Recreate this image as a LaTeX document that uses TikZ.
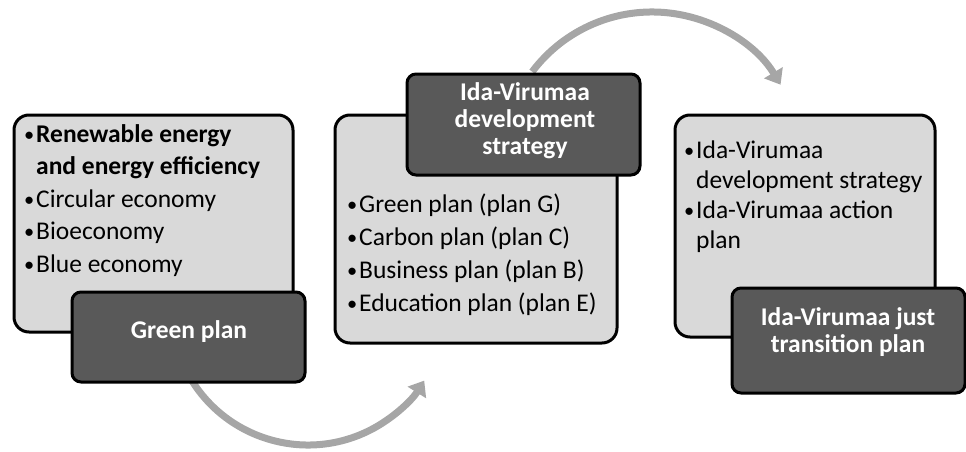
\documentclass[tikz,border=0pt]{standalone}
\usepackage{fontspec}
\setmainfont{Carlito}
\usetikzlibrary{arrows.meta}
\definecolor{lightfill}{HTML}{D9D9D9}
\definecolor{darkfill}{HTML}{595959}
\definecolor{arrowgray}{HTML}{A6A6A6}
\newcommand\bul{\makebox[12pt][l]{\raisebox{1pt}{\scalebox{0.8}{•}}}}
\tikzset{
  lightbox/.style={draw=black, line width=3pt, fill=lightfill, rounded corners=15pt, inner sep=0pt},
  darkbox/.style={draw=black, line width=3pt, fill=darkfill, rounded corners=9pt, inner sep=0pt},
  itemtext/.style={anchor=north west, inner sep=0pt, align=left, font=\fontsize{25.5}{32.5}\selectfont},
  titletext/.style={inner sep=0pt, align=center, text=white, font=\fontsize{25.5}{27}\selectfont\bfseries},
  cyclearrow/.style={draw=arrowgray, line width=7pt, -{Triangle[width=21pt,length=14pt]}}
}
\begin{document}
\begin{tikzpicture}[x=1pt,y=1pt]
\useasboundingbox (0,0) rectangle (966,451);
% arrows (behind the boxes)
\coordinate (a1s) at (189.4,74.5);
\coordinate (a2s) at (532.2,379.3);
\draw[cyclearrow] (a1s) arc[start angle=210,end angle=328,radius=137pt];
\draw[cyclearrow] (a2s) arc[start angle=143,end angle=31,radius=150pt];
% box 1
\node[lightbox, minimum width=279pt, minimum height=217pt] (b1) at (153.5,227.5) {};
\node[itemtext] (t1) at (24,327) {\bul\textbf{Renewable energy}\\\hspace*{12pt}\textbf{and energy efficiency}\\\bul Circular economy\\\bul Bioeconomy\\\bul Blue economy};
\node[darkbox, minimum width=233pt, minimum height=90pt] (d1) at (188.5,114) {};
\node[titletext] (d1t) at (189,119.5) {Green plan};
% box 2
\node[lightbox, minimum width=282pt, minimum height=228pt] (b2) at (476,222) {};
\node[darkbox, minimum width=233pt, minimum height=101pt] (d2) at (523.5,326.5) {};
\node[titletext] (d2t) at (525,330) {Ida-Virumaa\\development\\strategy};
\node[itemtext, font=\fontsize{25.5}{33}\selectfont] (t2) at (347,257) {\bul Green plan (plan G)\\\bul Carbon plan (plan C)\\\bul Business plan (plan B)\\\bul Education plan (plan E)};
% box 3
\node[lightbox, minimum width=260pt, minimum height=222pt] (b3) at (805,225) {};
\node[itemtext, font=\fontsize{25.5}{30}\selectfont] (t3) at (684,310) {\bul Ida-Virumaa\\\hspace*{12pt}development strategy\\\bul Ida-Virumaa action\\\hspace*{12pt}plan};
\node[darkbox, minimum width=233pt, minimum height=105pt] (d3) at (848.5,110.5) {};
\node[titletext] (d3t) at (848,119) {Ida-Virumaa just\\transition plan};
\end{tikzpicture}
\end{document}
